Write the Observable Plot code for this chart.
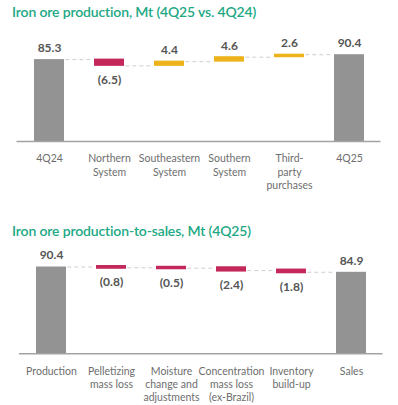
<!DOCTYPE html>
<html><head><meta charset="utf-8">
<script src="https://cdn.jsdelivr.net/npm/d3@7"></script>
<script src="https://cdn.jsdelivr.net/npm/@observablehq/plot@0.6"></script>
<style>
body{margin:0;background:#fff;width:398px;height:405px;position:relative;overflow:hidden;font-family:Lato,"Open Sans",sans-serif;}
.title{position:absolute;left:12px;color:#21a884;font-weight:600;font-size:14px;letter-spacing:-0.15px;line-height:1;white-space:nowrap;}
#c1{position:absolute;left:0;top:25px;}
#c2{position:absolute;left:0;top:240px;}
</style></head><body>
<div class="title" style="top:5px">Iron ore production, Mt (4Q25 vs. 4Q24)</div>
<div id="c1"></div>
<div class="title" style="top:223.5px">Iron ore production-to-sales, Mt (4Q25)</div>
<div id="c2"></div>
<script>
// Chart 1: Iron ore production, Mt (4Q25 vs. 4Q24)
const cats1 = ["4Q24", "Northern\nSystem", "Southeastern\nSystem", "Southern\nSystem", "Third-\nparty\npurchases", "4Q25"];
const values1 = [85.3, -6.5, 4.4, 4.6, 2.6, 90.4];
const kinds1 = ["total", "delta", "delta", "delta", "delta", "total"];
const labels1 = ["85.3", "(6.5)", "4.4", "4.6", "2.6", "90.4"];

// Chart 2: Iron ore production-to-sales, Mt (4Q25)
const cats2 = ["Production", "Pelletizing\nmass loss", "Moisture\nchange and\nadjustments", "Concentration\nmass loss\n(ex-Brazil)", "Inventory\nbuild-up", "Sales"];
const values2 = [90.4, -0.8, -0.5, -2.4, -1.8, 84.9];
const kinds2 = ["total", "delta", "delta", "delta", "delta", "total"];
const labels2 = ["90.4", "(0.8)", "(0.5)", "(2.4)", "(1.8)", "84.9"];

const GRAY = "#939393", RED = "#c4285a", GOLD = "#edb31b";

function waterfall(cats, vals, kinds, labels, o) {
  const rows = [];
  let run = 0;
  cats.forEach((c, i) => {
    const v = vals[i];
    let y1, y2, kind;
    if (kinds[i] === "total") { y1 = 0; y2 = v; run = v; kind = "total"; }
    else { y1 = run; y2 = run + v; run = y2; kind = v < 0 ? "neg" : "pos"; }
    rows.push({cat: c, y1, y2, run, kind, label: labels[i], top: Math.max(y1, y2), bottom: Math.min(y1, y2)});
  });
  const links = rows.slice(0, -1).map((r, i) => ({a: r.cat, b: rows[i + 1].cat, y: r.run}));
  const xopt = {type: "band", domain: cats, paddingInner: 0.5, paddingOuter: 0.25};
  const bw = Plot.scale({x: {...xopt, range: [o.ml, 398 - o.mr]}}).bandwidth;
  return Plot.plot({
    width: 398, height: o.h,
    marginLeft: o.ml, marginRight: o.mr, marginTop: o.mt, marginBottom: o.mb,
    x: {...xopt, label: null},
    y: {domain: [0, 100], axis: null},
    style: {fontFamily: "Lato, 'Open Sans', sans-serif", fontSize: "10.5px", color: "#6e6e6e", background: "transparent"},
    marks: [
      Plot.ruleY(links, {x1: "a", x2: "b", y: "y", stroke: "#cfcfcf", strokeWidth: 1, strokeDasharray: "4,3", insetLeft: bw + 1, insetRight: bw + 1}),
      Plot.barY(rows.filter(d => d.kind === "total"), {x: "cat", y1: "y1", y2: "y2", fill: GRAY}),
      Plot.barY(rows.filter(d => d.kind === "pos"), {x: "cat", y1: "y1", y2: "y2", fill: GOLD, insetTop: -o.ins, insetBottom: -o.ins}),
      Plot.barY(rows.filter(d => d.kind === "neg"), {x: "cat", y1: "y1", y2: "y2", fill: RED, insetTop: -o.ins, insetBottom: -o.ins}),
      Plot.ruleY([0], {stroke: "#a3a3a3", strokeWidth: 1.5}),
      Plot.text(rows.filter(d => d.kind !== "neg"), {x: "cat", y: "top", text: "label", dy: -11.5, fontWeight: 700, fontSize: 12, fill: "#555"}),
      Plot.text(rows.filter(d => d.kind === "neg"), {x: "cat", y: "bottom", text: "label", dy: o.negDy, fontWeight: 700, fontSize: 12, fill: "#555"}),
      Plot.axisX({tickSize: 0, tickPadding: 11.5, lineHeight: 1.27, fontSize: 10.5, fill: "#6e6e6e", label: null})
    ]
  });
}

document.getElementById("c1").append(
  waterfall(cats1, values1, kinds1, labels1, {h: 170, ml: 16.5, mr: 17.5, mt: 20, mb: 54, ins: 0.5, negDy: 14})
);
document.getElementById("c2").append(
  waterfall(cats2, values2, kinds2, labels2, {h: 165, ml: 19, mr: 15.5, mt: 17.3, mb: 51.7, ins: 1.5, negDy: 14.5})
);
</script>
</body></html>
